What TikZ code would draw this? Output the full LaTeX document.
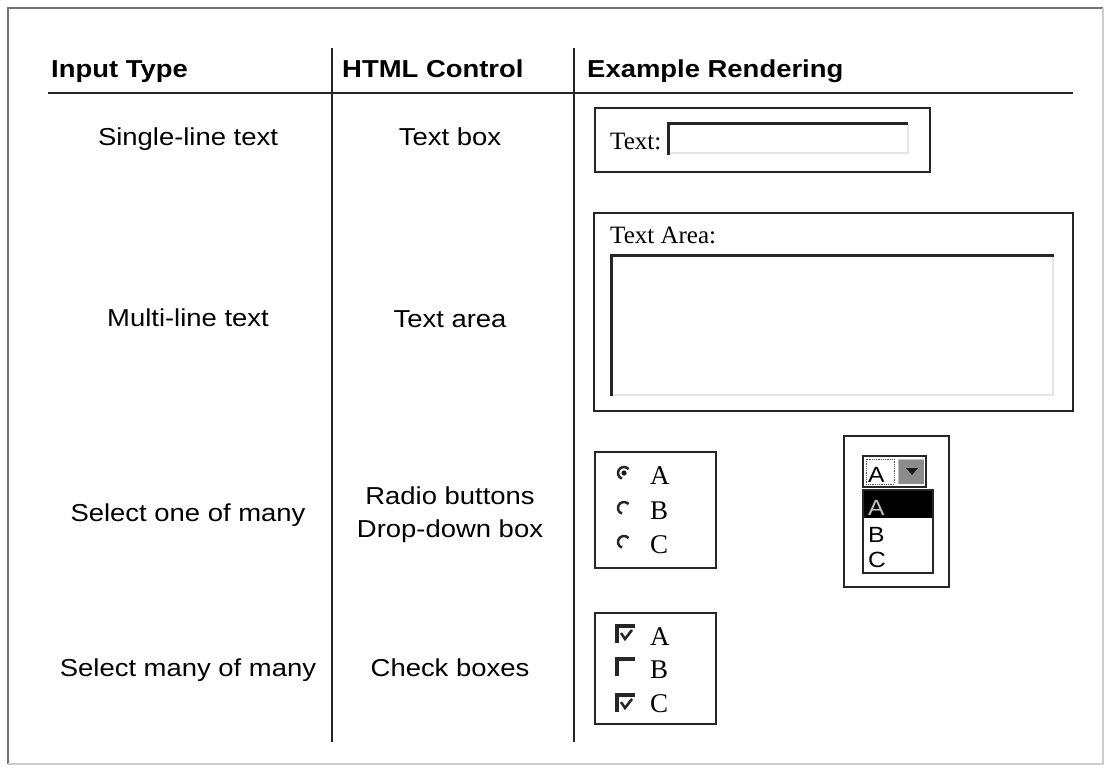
\documentclass[tikz,border=0pt]{standalone}
\usepackage{fontspec}
\setmainfont{Liberation Serif}
\newfontfamily\arialf[FakeStretch=1.12]{Liberation Sans}
\begin{document}
\begin{tikzpicture}[x=1pt,y=-1pt,
  frameD/.style={draw=black!55,line width=1.4pt},
  frameL/.style={draw=black!20,line width=1.2pt},
  rule/.style={draw=black!85,line width=1.6pt},
  hdr/.style={anchor=base west,inner sep=0pt,text=black,font=\arialf\bfseries\fontsize{24.5}{28}\selectfont},
  cell/.style={anchor=base,inner sep=0pt,text=black,font=\arialf\fontsize{24.5}{28}\selectfont},
  widget/.style={draw=black!85,line width=2pt},
  field/.style={draw=black!85,line width=3pt},
  fieldlight/.style={draw=black!10,line width=1.5pt},
  serif/.style={anchor=base west,inner sep=0pt,text=black,font=\fontsize{25}{28}\selectfont},
  letter/.style={anchor=base west,inner sep=0pt,text=black,font=\fontsize{27}{30}\selectfont},
  ddtext/.style={anchor=base west,inner sep=0pt,font=\arialf\fontsize{22}{24}\selectfont},
  radio/.style={draw=black!85,line width=2.5pt},
  chk/.style={draw=black!85,line width=3.2pt},
  tick/.style={draw=black!85,line width=2.6pt}
]
\useasboundingbox (0,0) rectangle (1106,769);
\fill[white] (0,0) rectangle (1106,769);

% outer frame
\coordinate (fTL) at (8,8);
\coordinate (fTR) at (1103,8);
\coordinate (fBR) at (1103,764);
\coordinate (fBL) at (8,764);
\draw[frameD] (fBL) -- (fTL) -- (fTR);
\draw[frameL] (fTR) -- (fBR) -- (fBL);

% table rules
\coordinate (hL) at (48,93);
\coordinate (hR) at (1073,93);
\coordinate (v1t) at (332,48);
\coordinate (v1b) at (332,742);
\coordinate (v2t) at (574,48);
\coordinate (v2b) at (574,742);
\draw[rule] (hL) -- (hR);
\draw[rule] (v1t) -- (v1b);
\draw[rule] (v2t) -- (v2b);

% headers
\node[hdr] (h1) at (51,77) {Input Type};
\node[hdr] (h2) at (342,77) {HTML Control};
\node[hdr] (h3) at (587,77) {Example Rendering};

% column texts
\node[cell] (c11) at (188,145) {Single-line text};
\node[cell] (c12) at (450,145) {Text box};
\node[cell] (c21) at (188,326) {Multi-line text};
\node[cell] (c22) at (450,327) {Text area};
\node[cell] (c31) at (188,521) {Select one of many};
\node[cell] (c32a) at (450,504) {Radio buttons};
\node[cell] (c32b) at (450,537) {Drop-down box};
\node[cell] (c41) at (188,676) {Select many of many};
\node[cell] (c42) at (450,676) {Check boxes};

% text box widget
\draw[widget] (595,108) rectangle (930,172);
\node[serif] (tbl) at (610,149) {Text:};
\draw[fieldlight] (908,124) -- (908,153) -- (669,153);
\draw[field] (668,155) -- (668,123) -- (908,123);

% text area widget
\draw[widget] (594,213) rectangle (1073,411);
\node[serif] (tal) at (610,243) {Text Area:};
\draw[fieldlight] (1053,256) -- (1053,395) -- (612,395);
\draw[field] (611,396) -- (611,255) -- (1054,255);

% radio buttons widget
\draw[widget] (595,452) rectangle (716,568);
\foreach \yy in {473,508,542}{
  \draw[radio] (624,\yy) ++(-40:6) arc[start angle=-40,end angle=-250,radius=6];
}
\fill[black!90] (624,473) circle[radius=2.6];
\node[letter] (ra) at (650,484) {A};
\node[letter] (rb) at (650,519) {B};
\node[letter] (rc) at (650,553) {C};

% drop-down widget
\draw[widget] (844,436) rectangle (949,587);
\draw[draw=black!85,line width=1.6pt] (863,456) rectangle (926,487);
\draw[draw=black!70,densely dotted,line width=0.8pt] (866,459) rectangle (894,484);
\fill[black!45] (898,459) rectangle (924,484);
\draw[draw=black!25,line width=0.8pt] (898,484) -- (898,459) -- (924,459);
\fill[black!90] (906,468) -- (918,468) -- (912,475) -- cycle;
\node[ddtext,text=black] (dsel) at (868,482) {A};
\draw[draw=black!85,line width=1.6pt] (863,490) rectangle (933,573);
\fill[black] (864,491) rectangle (932,518);
\node[ddtext,text=black!25] (dla) at (868,515) {A};
\node[ddtext,text=black] (dlb) at (868,542) {B};
\node[ddtext,text=black] (dlc) at (868,567) {C};

% check boxes widget
\draw[widget] (595,613) rectangle (716,724);
\foreach \yy in {626,659,695}{
  \draw[chk] (617,\yy+17) -- (617,\yy) -- (635,\yy);
}
\draw[tick] (621,633) -- (625,639) -- (632,630);
\draw[tick] (621,702) -- (625,708) -- (632,699);
\node[letter] (ca) at (650,645) {A};
\node[letter] (cb) at (650,678) {B};
\node[letter] (cc) at (650,712) {C};
\end{tikzpicture}
\end{document}
